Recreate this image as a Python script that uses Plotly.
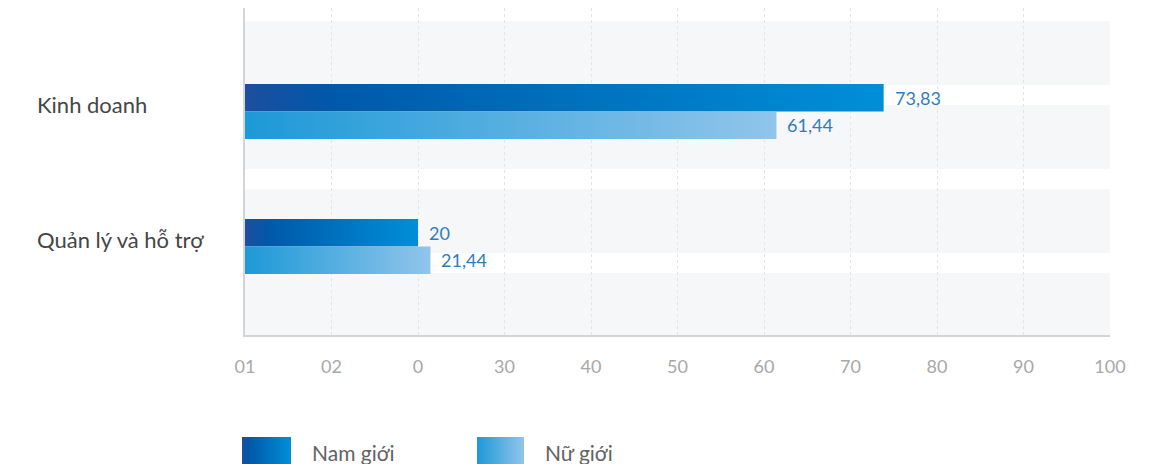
import plotly.graph_objects as go

# ---- data ----
categories = ["Kinh doanh", "Quản lý và hỗ trợ"]
series_names = ["Nam giới", "Nữ giới"]
nam_values = [73.83, 20]
nu_values = [61.44, 21.44]
tick_values = [0, 10, 20, 30, 40, 50, 60, 70, 80, 90, 100]
tick_labels = ["01", "02", "0", "30", "40", "50", "60", "70", "80", "90", "100"]

# ---- style ----
W, H = 1158, 464
OFF = 8              # page body margin: screen px -> figure px
X0, X1 = 245 - OFF, 1110 - OFF   # plot area in figure pixels
Y0, Y1 = 8 - OFF, 335 - OFF
FONT = "Lato"
nam_scale = [[0, "#1e4e9f"], [0.13, "#0058a9"], [1, "#008fd7"]]
nu_scale = [[0, "#1d99d7"], [1, "#91c5eb"]]
bw = 0.203  # bar thickness in category units
CAT_PX = 135  # category spacing in px
CAT0 = 111.5 - OFF  # first category centre px

fig = go.Figure()


def fmt(v):
    return f"{v:g}".replace(".", ",")


def bar_trace(v, ya, yb, scale):
    return go.Scatter(
        x=[0, v, v, 0, 0], y=[ya, ya, yb, yb, ya],
        mode="lines", line=dict(width=0), fill="toself",
        fillgradient=dict(type="horizontal", colorscale=scale),
        hoverinfo="skip", showlegend=False, xaxis="x", yaxis="y")


annotations = []
for i, cat in enumerate(categories):
    fig.add_trace(bar_trace(nam_values[i], i - bw, i, nam_scale))
    fig.add_trace(bar_trace(nu_values[i], i, i + bw, nu_scale))
    annotations.append(dict(x=nam_values[i], y=i - bw / 2, xref="x", yref="y",
                            text=fmt(nam_values[i]), showarrow=False,
                            xanchor="left", yanchor="middle", xshift=9,
                            font=dict(family=FONT, size=18, color="#2e7dbf")))
    annotations.append(dict(x=nu_values[i], y=i + bw / 2, xref="x", yref="y",
                            text=fmt(nu_values[i]), showarrow=False,
                            xanchor="left", yanchor="middle", xshift=9,
                            font=dict(family=FONT, size=18, color="#2e7dbf")))
    annotations.append(dict(x=(35 - OFF) / W, y=i - 0.052, xref="paper", yref="y",
                            text=cat, showarrow=False, xanchor="left",
                            yanchor="middle",
                            font=dict(family=FONT, size=22, color="#454545")))

# legend (gradient squares on an overlay pixel axis)
legend_sq = [(242, 291, nam_scale), (477, 524, nu_scale)]
legend_tx = [310, 543]
for (a, b, sc), tx, name in zip(legend_sq, legend_tx, series_names):
    a, b = a - OFF, b - OFF
    ty0, ty1 = 437 - OFF, 485 - OFF
    fig.add_trace(go.Scatter(
        x=[a, b, b, a, a], y=[ty0, ty0, ty1, ty1, ty0], mode="lines",
        line=dict(width=0), fill="toself",
        fillgradient=dict(type="horizontal", colorscale=sc),
        hoverinfo="skip", showlegend=False, xaxis="x2", yaxis="y2"))
    annotations.append(dict(x=(tx - OFF) / W, y=1 - (452 - OFF) / H,
                            xref="paper", yref="paper",
                            text=name, showarrow=False, xanchor="left",
                            yanchor="middle",
                            font=dict(family=FONT, size=21, color="#636363")))

# background stripes (screen px)
shapes = []
for a, b in [(21, 85), (105, 169), (189, 253), (273, 335)]:
    a, b = a - OFF, b - OFF
    shapes.append(dict(type="rect", xref="x domain", yref="y domain",
                       x0=0, x1=1, y0=(Y1 - b) / (Y1 - Y0), y1=(Y1 - a) / (Y1 - Y0),
                       fillcolor="#f6f7f9", line=dict(width=0), layer="below"))

ylo = -(CAT0 - Y0) / CAT_PX
yhi = (Y1 - CAT0) / CAT_PX

fig.update_layout(
    width=W, height=H,
    margin=dict(l=0, r=0, t=0, b=0),
    paper_bgcolor="white", plot_bgcolor="rgba(0,0,0,0)",
    showlegend=False,
    xaxis=dict(domain=[X0 / W, X1 / W], range=[0, 100], anchor="y",
               tickvals=tick_values, ticktext=tick_labels,
               tickfont=dict(family=FONT, size=18, color="#a8a8a8"),
               showgrid=True, gridcolor="#e4e4e4", griddash="dot", gridwidth=1,
               zeroline=False, showline=True, linecolor="#d4d4d4", linewidth=2,
               ticks="", ticklabelstandoff=14,
               automargin=False, fixedrange=True),
    yaxis=dict(domain=[1 - Y1 / H, 1 - Y0 / H], range=[yhi, ylo], anchor="x",
               showticklabels=False, showgrid=False, zeroline=False,
               showline=True, linecolor="#d4d4d4", linewidth=2, ticks="",
               automargin=False, fixedrange=True),
    xaxis2=dict(domain=[0, 1], range=[0, W], anchor="y2", visible=False,
                fixedrange=True),
    yaxis2=dict(domain=[0, 1], range=[H, 0], anchor="x2", visible=False,
                fixedrange=True),
    annotations=annotations,
    shapes=shapes,
)

fig.write_html("out.html")
